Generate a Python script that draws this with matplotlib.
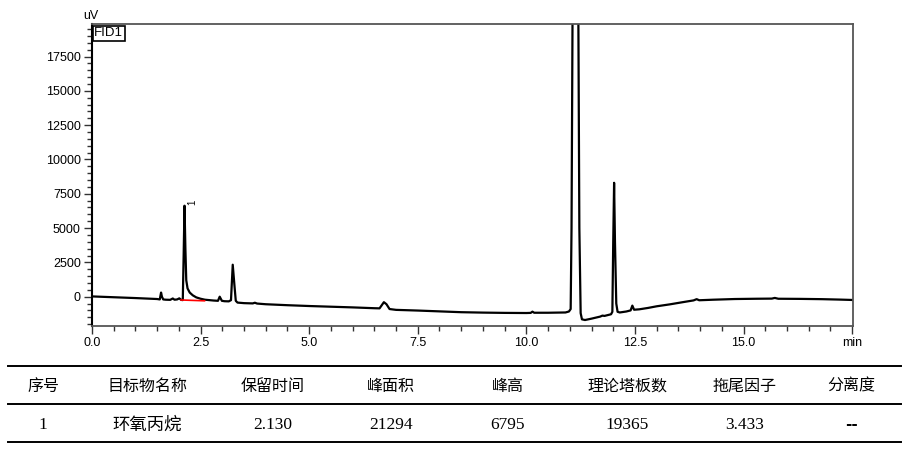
import matplotlib
matplotlib.use("Agg")
import matplotlib.pyplot as plt
from matplotlib.lines import Line2D
from matplotlib.ticker import MultipleLocator

# trace points (min, uV)
trace_t = [0.00, 0.50, 1.00, 1.50, 1.56, 1.59, 1.61, 1.64, 1.70, 1.80, 1.86, 1.90,
           1.96, 2.01, 2.05, 2.09, 2.11, 2.13, 2.15, 2.17, 2.20, 2.25, 2.32, 2.40,
           2.50, 2.60, 2.80, 2.90, 2.94, 2.99, 3.05, 3.15, 3.20, 3.24, 3.28, 3.31,
           3.35, 3.50, 3.70, 3.75, 3.80, 4.00, 4.50, 5.00, 5.50, 6.00, 6.50, 6.62,
           6.72, 6.78, 6.85, 7.00, 7.50, 8.00, 8.50, 9.00, 9.50, 10.00, 10.10, 10.14,
           10.18, 10.50, 10.90, 10.98, 11.02, 11.04, 11.07, 11.19, 11.22, 11.25, 11.28, 11.35,
           11.50, 11.70, 11.75, 11.80, 11.95, 11.98, 12.00, 12.02, 12.04, 12.07, 12.10, 12.15,
           12.30, 12.40, 12.44, 12.48, 12.60, 12.80, 13.00, 13.30, 13.60, 13.85, 13.92, 13.98,
           14.30, 14.80, 15.30, 15.65, 15.72, 15.80, 16.30, 16.80, 17.20, 17.52]
trace_v = [20, -40, -100, -170, -200, 300, 0, -200, -220, -230, -130, -220,
           -200, -120, -230, -250, 3000, 6630, 3500, 1200, 600, 300, 100, -50,
           -150, -220, -280, -300, 0, -300, -330, -340, -250, 2330, 800, -300,
           -430, -470, -490, -440, -500, -550, -620, -680, -730, -780, -840, -850,
           -400, -550, -900, -960, -1010, -1070, -1130, -1160, -1180, -1190, -1180, -1090,
           -1170, -1170, -1150, -1080, -900, 5000, 25000, 25000, 5000, -1200, -1650, -1700,
           -1600, -1450, -1380, -1400, -1280, -1100, 4000, 8300, 4000, -500, -1100, -1150,
           -1080, -1000, -650, -950, -920, -820, -700, -560, -400, -270, -180, -260,
           -220, -170, -150, -140, -90, -150, -160, -180, -210, -240]

# integration baseline of peak 1
base_t = [2.05, 2.59]
base_v = [-240, -300]

peak_label = "1"
peak_pos = (2.30, 6900)

x_ticks = [0.0, 2.5, 5.0, 7.5, 10.0, 12.5, 15.0, 17.5]
x_labels = ["0.0", "2.5", "5.0", "7.5", "10.0", "12.5", "15.0", "min"]
y_ticks = [0, 2500, 5000, 7500, 10000, 12500, 15000, 17500]

# result table
headers = ["序号", "目标物名称", "保留时间", "峰面积", "峰高", "理论塔板数", "拖尾因子", "分离度"]
row = ["1", "环氧丙烷", "2.130", "21294", "6795", "19365", "3.433", "--"]
col_x = [43, 147, 273, 391, 508, 627, 745, 851]

W, H = 909, 451
fig = plt.figure(figsize=(W / 100, H / 100), dpi=100)
ax = fig.add_axes([92 / W, 1 - 325.7 / H, (853 - 92) / W, (325.7 - 24.3) / H])

ax.plot(trace_t, trace_v, color="black", lw=1.6, solid_joinstyle="round")
ax.plot(base_t, base_v, color="red", lw=1.2)
ax.text(peak_pos[0], peak_pos[1], peak_label, rotation=90, fontsize=7,
        ha="center", va="center", family="Liberation Sans")

ax.set_xlim(0, 17.52)
ax.set_ylim(-2114, 19850)
ax.set_xticks(x_ticks)
ax.set_xticklabels(x_labels)
ax.set_yticks(y_ticks)
ax.xaxis.set_minor_locator(MultipleLocator(0.5))
ax.yaxis.set_minor_locator(MultipleLocator(500))
ax.tick_params(which="major", length=6, width=1, labelsize=9, pad=2, color="#333333")
ax.tick_params(which="minor", length=3.5, width=1, color="#333333")
for lab in ax.get_xticklabels() + ax.get_yticklabels():
    lab.set_family("Liberation Sans")
for s in ["top", "right", "bottom"]:
    ax.spines[s].set_color("#555555")
    ax.spines[s].set_linewidth(1.3)
ax.spines["left"].set_color("black")
ax.spines["left"].set_linewidth(1.5)

ax.text(-0.002, 1.008, "uV", transform=ax.transAxes, ha="center", va="bottom",
        fontsize=9, family="Liberation Sans")
ax.text(0.003, 0.99, "FID1", transform=ax.transAxes, ha="left", va="top",
        fontsize=9.5, family="Liberation Sans",
        bbox=dict(boxstyle="square,pad=0.1", fc="white", ec="black", lw=1.2))

# table lines and text
for yp in [365.7, 404.3, 442.3]:
    fig.add_artist(Line2D([8 / W, 901 / W], [1 - yp / H, 1 - yp / H], color="black", lw=1.4))

for cx, h in zip(col_x, headers):
    fig.text(cx / W, 1 - 386 / H, h, ha="center", va="center", fontsize=11.5,
             family=["Noto Sans CJK SC", "DejaVu Sans"], weight="medium")
for cx, v in zip(col_x, row):
    if v == "--":
        fig.text(cx / W, 1 - 425 / H, v, ha="center", va="center", fontsize=11,
                 family="DejaVu Sans", weight="bold")
    else:
        fig.text(cx / W, 1 - 425 / H, v, ha="center", va="center", fontsize=12.5,
                 family=["Liberation Serif", "Noto Sans CJK SC"])

fig.savefig("out.png", dpi=100)
